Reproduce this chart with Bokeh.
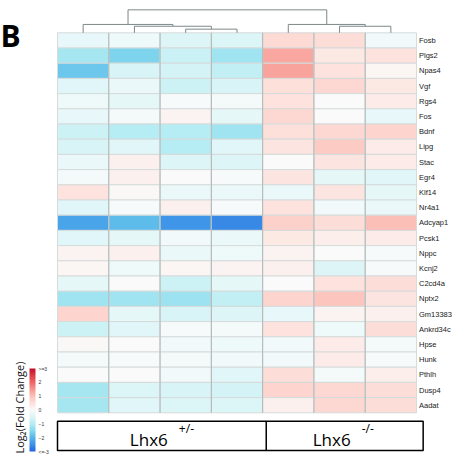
import math
from bokeh.plotting import figure
from bokeh.models import Range1d, LinearColorMapper, ColorBar, FixedTicker, ColumnDataSource
from bokeh.core.properties import value
from bokeh.embed import file_html
from bokeh.resources import INLINE

# ---------------- data ----------------
genes = ["Fosb", "Plgs2", "Npas4", "Vgf", "Rgs4", "Fos", "Bdnf", "Lipg", "Stac", "Egr4",
         "Klf14", "Nr4a1", "Adcyap1", "Pcsk1", "Nppc", "Kcnj2", "C2cd4a", "Nptx2",
         "Gm13383", "Ankrd34c", "Hpse", "Hunk", "Pthlh", "Dusp4", "Aadat"]
samples = ["het1", "het2", "het3", "het4", "ko1", "ko2", "ko3"]

het1 = [-0.3, -1.15, -1.75, -0.4, -0.2, -0.3, -0.7, -0.55, -0.25, -0.1, 0.45, -0.4, -2.25,
        -0.4, 0.15, 0.1, -0.35, -1.2, 0.7, -0.7, 0.05, -0.1, 0.0, -1.15, -1.15]
het2 = [-0.2, -1.55, -0.55, -0.25, -0.35, -0.1, -1.0, -0.4, 0.2, 0.2, 0.05, -0.05, -1.9,
        -0.35, 0.2, -0.2, 0.0, -1.2, -0.35, -0.4, 0.0, -0.05, 0.0, -0.5, -0.4]
het3 = [-0.45, -0.75, -0.6, -0.7, -0.05, 0.15, -1.0, -1.0, -0.45, 0.0, -0.25, 0.2, -2.45,
        -0.15, -0.25, 0.1, -0.7, -1.25, -0.55, -0.05, -0.15, -0.1, -0.15, -0.55, -0.5]
het4 = [-0.5, -1.2, -0.85, -0.55, -0.1, -0.35, -1.2, -0.4, -0.45, -0.05, -0.25, -0.05, -2.6,
        -0.25, -0.2, 0.15, -0.35, -0.85, -0.45, -0.1, -0.2, -0.15, -0.4, -0.6, -0.5]
ko1 = [0.6, 1.3, 1.35, 0.5, 0.45, 0.65, 0.5, 0.4, 0.0, 0.4, -0.25, 0.45, 0.75,
       0.35, 0.15, 0.2, 0.0, 0.7, -0.3, 0.45, -0.15, -0.15, 0.55, 0.7, 0.2]
ko2 = [0.55, 0.35, 0.45, 0.65, 0.0, 0.0, 0.65, 0.85, 0.4, -0.35, 0.4, -0.15, 0.55,
       0.25, 0.0, -0.45, 0.45, 0.95, 0.15, -0.2, 0.3, 0.3, -0.1, 0.65, 0.65]
ko3 = [-0.15, 0.45, 0.1, 0.35, 0.3, -0.3, 0.7, 0.3, 0.3, -0.4, -0.35, -0.25, 1.05,
       0.3, -0.05, -0.05, 0.55, 0.4, 0.2, 0.55, -0.1, -0.05, 0.25, 0.55, 0.55]
columns = [het1, het2, het3, het4, ko1, ko2, ko3]

group_names = ["Lhx6", "Lhx6"]
group_sups = ["+/-", "-/-"]
group_sizes = [4, 3]

# dendrogram linkage: (left id, right id, merge height); leaves 0..6, new clusters 7..
linkage = [(2, 3, 0.24), (1, 7, 0.43), (0, 8, 0.55), (5, 6, 0.43), (4, 10, 0.55), (9, 11, 1.51)]

cbar_ticks = [-3, -2, -1, 0, 1, 2, 3]
cbar_overrides = {3: ">=3", -3: "<=-3"}
cbar_title = "Log\u2082(Fold Change)"
panel_letter = "B"

# ---------------- layout ----------------
W, H = 457, 455
HM_L, HM_T = 57.0, 32.3
CW = 359.0 / 7
RH = 15.2


def px2x(px):
    return (px - HM_L) / CW


def py2y(py):
    return (py - HM_T) / RH


p = figure(width=W, height=H,
           x_range=Range1d(px2x(0), px2x(W)),
           y_range=Range1d(py2y(H), py2y(0)),
           min_border=0, toolbar_location=None, output_backend="svg",
           x_axis_location=None, y_axis_location=None)
p.grid.visible = False
p.outline_line_color = None
p.background_fill_color = "white"
p.border_fill_color = "white"

# ---------------- colormap ----------------
anchors = [(-3, "#2463e0"), (-2.5, "#3d92e7"), (-2, "#57b6ea"), (-1.5, "#84d9ee"),
           (-1, "#b6ecf3"), (-0.5, "#dcf5f7"), (0, "#fafbfb"), (0.5, "#fde0da"),
           (1, "#fcc3bb"), (1.5, "#f7968f"), (2, "#ee6868"), (2.5, "#dc3a45"), (3, "#c0102a")]


def h2rgb(h):
    return tuple(int(h[i:i + 2], 16) for i in (1, 3, 5))


palette = []
N = 256
for i in range(N):
    v = -3 + 6 * i / (N - 1)
    for (v0, c0), (v1, c1) in zip(anchors[:-1], anchors[1:]):
        if v0 <= v <= v1:
            t = (v - v0) / (v1 - v0)
            a, b = h2rgb(c0), h2rgb(c1)
            rgb = [round(a[k] + (b[k] - a[k]) * t) for k in range(3)]
            palette.append("#%02x%02x%02x" % tuple(rgb))
            break
mapper = LinearColorMapper(palette=palette, low=-3, high=3)

# ---------------- heatmap ----------------
xs, ys, vs = [], [], []
for c, col in enumerate(columns):
    for r, v in enumerate(col):
        xs.append(c + 0.5)
        ys.append(r + 0.5)
        vs.append(v)
src = ColumnDataSource(dict(x=xs, y=ys, val=vs))
p.rect(x="x", y="y", width=1, height=1, source=src,
       fill_color={"field": "val", "transform": mapper},
       line_color="#d6dbdb", line_width=1)
nS, nG = len(samples), len(genes)
p.segment(x0=list(range(1, nS)), y0=[0] * (nS - 1), x1=list(range(1, nS)), y1=[nG] * (nS - 1),
          line_color="#b0b8b8", line_width=1)

# gene labels
p.text(x=[nS] * nG, y=[r + 0.5 for r in range(nG)], text=genes, x_offset=2.5,
       text_font=value("Liberation Sans"), text_font_size="7.5px",
       text_baseline="middle", text_align="left", text_color="#1a1a1a")

# ---------------- dendrogram ----------------
pos = {i: (i + 0.5, 0.0) for i in range(nS)}
sx0, sy0, sx1, sy1 = [], [], [], []
nid = nS
for a, b, h in linkage:
    (xa, ya), (xb, yb) = pos[a], pos[b]
    sx0 += [xa, xa, xb]
    sy0 += [-ya, -h, -h]
    sx1 += [xa, xb, xb]
    sy1 += [-h, -h, -yb]
    pos[nid] = ((xa + xb) / 2, h)
    nid += 1
p.segment(x0=sx0, y0=sy0, x1=sx1, y1=sy1, line_color="#7d8888", line_width=1)

# ---------------- group box ----------------
edges = [0]
for g in group_sizes:
    edges.append(edges[-1] + g)
edges[1] += 0.07
edges[-1] += 0.13
box_top, box_bot = nG + 0.55, nG + 2.48
p.quad(left=[edges[0]], right=[edges[-1]], top=[box_top], bottom=[box_bot],
       fill_color=None, line_color="black", line_width=1.5)
p.segment(x0=edges[1:-1], y0=[box_top], x1=edges[1:-1], y1=[box_bot],
          line_color="black", line_width=1.5)
centers = [(edges[i] + edges[i + 1]) / 2 for i in range(len(group_sizes))]
base = box_bot - 0.72
p.text(x=centers, y=[base] * len(centers), text=group_names, x_offset=-32,
       text_font=value("Open Sans"), text_font_size="17px",
       text_align="left", text_baseline="alphabetic", text_color="black")
p.text(x=centers, y=[base - 0.7] * len(centers), text=group_sups, x_offset=17,
       text_font=value("Open Sans"), text_font_size="12px",
       text_align="left", text_baseline="alphabetic", text_color="black")

# ---------------- panel letter ----------------
p.text(x=[px2x(0)], y=[py2y(35)], text=[panel_letter],
       text_font=value("Open Sans"), text_font_size="30px", text_font_style="bold",
       text_align="left", text_baseline="alphabetic", text_color="black")

# ---------------- colour bar ----------------
cb = ColorBar(color_mapper=mapper, ticker=FixedTicker(ticks=cbar_ticks),
              major_label_overrides=cbar_overrides,
              width=6, height=83, location=(29, 4), padding=0, margin=0,
              label_standoff=3, major_label_text_font_size="5px",
              major_label_text_color="#333333",
              major_label_text_font="Liberation Sans",
              major_tick_line_color=None, minor_tick_line_color=None,
              bar_line_color=None, border_line_color=None,
              background_fill_color=None)
p.add_layout(cb)

p.text(x=[px2x(18.5)], y=[py2y(407)], text=[cbar_title], angle=math.pi / 2,
       text_font=value("Open Sans"), text_font_size="11px",
       text_align="center", text_baseline="middle", text_color="#111111")

open("out.html", "w").write(file_html(p, INLINE))
